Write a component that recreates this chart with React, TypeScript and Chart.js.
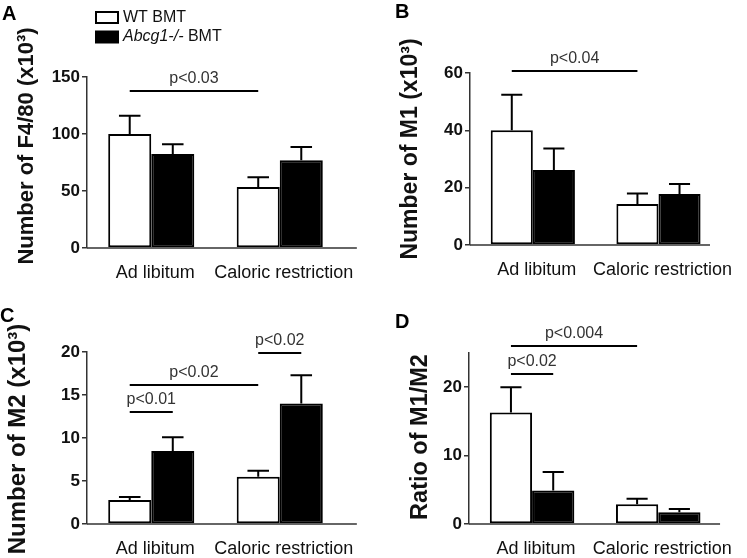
import React, { useEffect, useRef } from 'react';
import { Chart, registerables } from 'chart.js';

Chart.register(...registerables);

const FONT = '"Liberation Sans", Arial, Helvetica, sans-serif';

// ---------- data ----------
const categories = ['Ad libitum', 'Caloric restriction'];
const geneName = 'Abcg1-/-';
const seriesLabels = ['WT BMT', `${geneName} BMT`];

// A: F4/80 (x10^3)
const f480Wt = [100, 53.5];
const f480WtErr = [16, 8.5];
const f480Ko = [82.5, 77];
const f480KoErr = [8.5, 11.5];

// B: M1 (x10^3)
const m1Wt = [40, 14.3];
const m1WtErr = [12.4, 3.7];
const m1Ko = [26.2, 17.8];
const m1KoErr = [7.5, 3.5];

// C: M2 (x10^3)
const m2Wt = [2.8, 5.5];
const m2WtErr = [0.35, 0.7];
const m2Ko = [8.5, 14];
const m2KoErr = [1.6, 3.3];

// D: ratio M1/M2
const ratioWt = [16.3, 2.9];
const ratioWtErr = [3.7, 0.8];
const ratioKo = [4.9, 1.7];
const ratioKoErr = [2.7, 0.5];

// y axis ranges / ticks
const yMaxes = [150, 60, 20, 25];
const ySteps = [50, 20, 5, 10];

// significance annotations: [dataset, category] from -> to, at value y
type Sig = { from: [number, number]; to: [number, number]; y: number; text: string };
const sigA: Sig[] = [{ from: [0, 0], to: [0, 1], y: 138, text: 'p<0.03' }];
const sigB: Sig[] = [{ from: [0, 0], to: [0, 1], y: 60.8, text: 'p<0.04' }];
const sigC: Sig[] = [
  { from: [0, 0], to: [1, 0], y: 13.0, text: 'p<0.01' },
  { from: [0, 0], to: [0, 1], y: 16.2, text: 'p<0.02' },
  { from: [0, 1], to: [1, 1], y: 19.9, text: 'p<0.02' },
];
const sigD: Sig[] = [
  { from: [0, 0], to: [0, 1], y: 26.0, text: 'p<0.004' },
  { from: [0, 0], to: [1, 0], y: 21.9, text: 'p<0.02' },
];

const titles = [
  'Number of F4/80 (x10\u00b3)',
  'Number of M1 (x10\u00b3)',
  'Number of M2 (x10\u00b3)',
  'Ratio of M1/M2',
];
const letters = ['A', 'B', 'C', 'D'];

// ---------- layout ----------
const PLOT_W = 257;
type Panel = {
  letter: string;
  title: string;
  wt: number[];
  wtErr: number[];
  ko: number[];
  koErr: number[];
  yMax: number;
  yStep: number;
  sigs: Sig[];
  box: { x: number; y: number; w: number; h: number };
  left: number;
  top: number;
  bottom: number;
  axisEnd: number;
  titleX: number;
  titleY: number;
  titleSize: number;
  letterX: number;
  letterY: number;
  legend: boolean;
};

const panels: Panel[] = [
  {
    letter: letters[0], title: titles[0], wt: f480Wt, wtErr: f480WtErr, ko: f480Ko, koErr: f480KoErr,
    yMax: yMaxes[0], yStep: ySteps[0], sigs: sigA,
    box: { x: 0, y: 0, w: 373, h: 279 }, left: 87, top: 77, bottom: 248, axisEnd: 1.6,
    titleX: 27, titleY: 146, titleSize: 22, letterX: 2, letterY: 4, legend: true,
  },
  {
    letter: letters[1], title: titles[1], wt: m1Wt, wtErr: m1WtErr, ko: m1Ko, koErr: m1KoErr,
    yMax: yMaxes[1], yStep: ySteps[1], sigs: sigB,
    box: { x: 373, y: 0, w: 374, h: 279 }, left: 97, top: 73, bottom: 245, axisEnd: 1.41,
    titleX: 38, titleY: 149, titleSize: 23, letterX: 22, letterY: 2, legend: false,
  },
  {
    letter: letters[2], title: titles[2], wt: m2Wt, wtErr: m2WtErr, ko: m2Ko, koErr: m2KoErr,
    yMax: yMaxes[2], yStep: ySteps[2], sigs: sigC,
    box: { x: 0, y: 279, w: 373, h: 279 }, left: 87, top: 73, bottom: 245, axisEnd: 1.6,
    titleX: 18, titleY: 160, titleSize: 24, letterX: 0, letterY: 27, legend: false,
  },
  {
    letter: letters[3], title: titles[3], wt: ratioWt, wtErr: ratioWtErr, ko: ratioKo, koErr: ratioKoErr,
    yMax: yMaxes[3], yStep: ySteps[3], sigs: sigD,
    box: { x: 373, y: 279, w: 374, h: 279 }, left: 96, top: 74, bottom: 245, axisEnd: 1.49,
    titleX: 48, titleY: 158, titleSize: 23.5, letterX: 22, letterY: 33, legend: false,
  },
];

// ---------- plugin ----------
const decorPlugin = {
  id: 'decor',
  afterDraw(chart: any, _args: any, opts: any) {
    const ctx: CanvasRenderingContext2D = chart.ctx;
    const xs = chart.scales.x;
    const ys = chart.scales.y;
    const p: Panel = opts.panel;
    ctx.save();

    // x axis baseline
    const y0 = ys.getPixelForValue(0);
    ctx.strokeStyle = '#333';
    ctx.lineWidth = 1.5;
    ctx.beginPath();
    ctx.moveTo(chart.chartArea.left, y0);
    ctx.lineTo(xs.getPixelForValue(p.axisEnd), y0);
    ctx.stroke();

    // error bars (upper only)
    const errs = [p.wtErr, p.koErr];
    errs.forEach((err, di) => {
      const meta = chart.getDatasetMeta(di);
      meta.data.forEach((bar: any, i: number) => {
        const v = chart.data.datasets[di].data[i] as number;
        const base = ys.getPixelForValue(v);
        const top = ys.getPixelForValue(v + err[i]);
        const half = bar.width / 4;
        ctx.strokeStyle = '#000';
        ctx.lineWidth = 2;
        ctx.beginPath();
        ctx.moveTo(bar.x, base);
        ctx.lineTo(bar.x, top);
        ctx.moveTo(bar.x - half, top);
        ctx.lineTo(bar.x + half, top);
        ctx.stroke();
      });
    });

    // significance lines
    p.sigs.forEach((s) => {
      const a = chart.getDatasetMeta(s.from[0]).data[s.from[1]];
      const b = chart.getDatasetMeta(s.to[0]).data[s.to[1]];
      const py = Math.round(ys.getPixelForValue(s.y));
      ctx.strokeStyle = '#000';
      ctx.lineWidth = 2;
      ctx.beginPath();
      ctx.moveTo(a.x, py);
      ctx.lineTo(b.x, py);
      ctx.stroke();
      ctx.fillStyle = '#333';
      ctx.font = `16px ${FONT}`;
      ctx.textAlign = 'center';
      ctx.textBaseline = 'alphabetic';
      ctx.fillText(s.text, (a.x + b.x) / 2, py - 8);
    });

    // y title
    ctx.save();
    ctx.translate(p.titleX, p.titleY);
    ctx.rotate(-Math.PI / 2);
    ctx.fillStyle = '#111';
    ctx.font = `bold ${p.titleSize}px ${FONT}`;
    ctx.textAlign = 'center';
    ctx.textBaseline = 'middle';
    ctx.fillText(p.title, 0, 0);
    ctx.restore();

    // panel letter
    ctx.fillStyle = '#000';
    ctx.font = `bold 20px ${FONT}`;
    ctx.textAlign = 'left';
    ctx.textBaseline = 'top';
    ctx.fillText(p.letter, p.letterX, p.letterY);

    // legend
    if (p.legend) {
      const rows = [17.5, 37];
      chart.data.datasets.forEach((ds: any, i: number) => {
        const cy = rows[i];
        ctx.fillStyle = ds.backgroundColor;
        ctx.fillRect(96, cy - 5.5, 22, 11);
        ctx.strokeStyle = '#000';
        ctx.lineWidth = 2;
        ctx.strokeRect(96, cy - 5.5, 22, 11);
        ctx.fillStyle = '#111';
        ctx.textBaseline = 'middle';
        ctx.textAlign = 'left';
        let x = 123;
        let label: string = ds.label;
        if (label.startsWith(geneName)) {
          ctx.font = `italic 16px ${FONT}`;
          ctx.fillText(geneName, x, cy);
          x += ctx.measureText(geneName).width;
          label = label.slice(geneName.length);
        }
        ctx.font = `16px ${FONT}`;
        ctx.fillText(label, x, cy);
      });
    }
    ctx.restore();
  },
};

function PanelChart({ p }: { p: Panel }) {
  const ref = useRef<HTMLCanvasElement>(null);
  useEffect(() => {
    if (!ref.current) return;
    const chart = new Chart(ref.current, {
      type: 'bar',
      data: {
        labels: categories,
        datasets: [
          {
            label: seriesLabels[0],
            data: p.wt,
            backgroundColor: '#ffffff',
            borderColor: '#000000',
            borderWidth: 2,
            borderSkipped: false,
          },
          {
            label: seriesLabels[1],
            data: p.ko,
            backgroundColor: '#000000',
            borderColor: '#000000',
            borderWidth: 2,
            borderSkipped: false,
          },
        ],
      },
      options: {
        responsive: false,
        animation: false,
        devicePixelRatio: 1,
        categoryPercentage: 0.67,
        barPercentage: 1,
        layout: {
          padding: { left: 0, top: p.top, right: p.box.w - p.left - PLOT_W, bottom: 0 },
        },
        plugins: {
          legend: { display: false },
          tooltip: { enabled: false },
          decor: { panel: p },
        } as any,
        scales: {
          x: {
            type: 'category',
            offset: true,
            grid: { display: false, drawTicks: false },
            border: { display: false },
            ticks: {
              font: { family: FONT, size: 18 },
              color: '#111',
              padding: 14,
              maxRotation: 0,
              autoSkip: false,
              labelOffset: 4,
            },
            afterFit: (s: any) => {
              s.height = p.box.h - p.bottom;
            },
          },
          y: {
            min: 0,
            max: p.yMax,
            ticks: {
              stepSize: p.yStep,
              includeBounds: false,
              font: { family: FONT, size: 17, weight: 'bold' },
              color: '#111',
              padding: 2,
            },
            grid: {
              drawOnChartArea: false,
              drawTicks: true,
              tickLength: 5,
              color: '#333',
              lineWidth: 1.5,
            },
            border: { display: true, color: '#333', width: 1.5 },
            afterFit: (s: any) => {
              s.width = p.left;
            },
          },
        },
      } as any,
      plugins: [decorPlugin],
    });
    return () => chart.destroy();
  }, [p]);
  return (
    <div
      style={{
        position: 'absolute',
        left: p.box.x,
        top: p.box.y,
        width: p.box.w,
        height: p.box.h,
      }}
    >
      <canvas ref={ref} width={p.box.w} height={p.box.h} style={{ display: 'block' }} />
    </div>
  );
}

export default function App() {
  return (
    <div
      style={{
        position: 'absolute',
        left: 0,
        top: 0,
        width: 747,
        height: 558,
        background: '#ffffff',
        overflow: 'hidden',
      }}
    >
      {panels.map((p) => (
        <PanelChart key={p.letter} p={p} />
      ))}
    </div>
  );
}
